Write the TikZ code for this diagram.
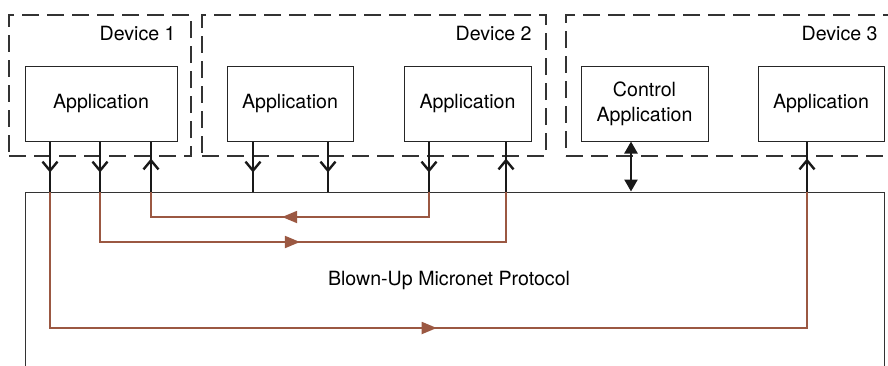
\documentclass[tikz,border=0pt]{standalone}
\usepackage{fontspec}
\setmainfont{TeX Gyre Heros}
\usetikzlibrary{arrows.meta, decorations.markings}
\definecolor{linkbrown}{RGB}{155,88,66}

\begin{document}
\begin{tikzpicture}[x=0.5pt, y=-0.5pt, font=\fontsize{9.8}{12.5}\selectfont,
  appbox/.style={draw=black!85, line width=0.5pt, inner sep=0pt, minimum height=37.5pt, align=center},
  devbox/.style={draw=black!80, line width=0.6pt, dash pattern=on 8.5pt off 4pt, inner sep=0pt, minimum height=70.5pt},
  devlabel/.style={anchor=east, inner sep=0pt},
  sendline/.style={draw=black!90, line width=1.2pt, postaction={decorate, decoration={markings, mark=at position 15.5pt with {\arrow{Straight Barb[length=4.5pt, width=7.5pt]}}}}},
  recvline/.style={draw=black!90, line width=1.2pt, postaction={decorate, decoration={markings, mark=at position 16.5pt with {\arrow{Straight Barb[length=4.5pt, width=7.5pt]}}}}},
  ctrlline/.style={draw=black!90, line width=1.2pt, {Triangle[length=6pt, width=6.5pt]}-{Triangle[length=6pt, width=6.5pt]}},
  msgflow/.style={draw=linkbrown, line width=0.9pt, postaction={decorate, decoration={markings, mark=at position #1 with {\arrow{Triangle[length=7.5pt, width=6pt]}}}}}]
\useasboundingbox (0,0) rectangle (888,365);
\clip (0,0) rectangle (888,365);
\node[devbox, minimum width=91pt] (dev1) at (100,85.5) {};
\node[devbox, minimum width=172pt] (dev2) at (374,85.5) {};
\node[devbox, minimum width=167pt] (dev3) at (733,85.5) {};
\node[devlabel] (dev1lbl) at (176,33) {Device 1};
\node[devlabel] (dev2lbl) at (532,33) {Device 2};
\node[devlabel] (dev3lbl) at (878,33) {Device 3};
\node[appbox, minimum width=76pt] (app1) at (101,103.5) {Application};
\node[appbox, minimum width=63pt] (app2a) at (290,103.5) {Application};
\node[appbox, minimum width=63.5pt] (app2b) at (467.5,103.5) {Application};
\node[appbox, minimum width=63.5pt] (ctrl) at (644.5,103.5) {Control\\Application};
\node[appbox, minimum width=63pt] (app3) at (821,103.5) {Application};
\node[draw=black!80, line width=0.5pt, inner sep=0pt, minimum width=429.5pt, minimum height=104pt] (proto) at (454.5,296) {};
\node (protolbl) at (449,280) {Blown-Up Micronet Protocol};
\coordinate (c1) at (50,0);
\coordinate (c2) at (100,0);
\coordinate (c3) at (151,0);
\coordinate (c4) at (253,0);
\coordinate (c5) at (328,0);
\coordinate (c6) at (429,0);
\coordinate (c7) at (506,0);
\coordinate (c8) at (631,0);
\coordinate (c9) at (807,0);
\coordinate (r1) at (0,217);
\coordinate (r2) at (0,242);
\coordinate (r3) at (0,328);
\draw[msgflow=0.524] (proto.north -| c6) |- (r1 -| c3) -- (proto.north -| c3);
\draw[msgflow=0.494] (proto.north -| c2) |- (r2 -| c7) -- (proto.north -| c7);
\draw[msgflow=0.508] (proto.north -| c1) |- (r3 -| c9) -- (proto.north -| c9);
\draw[sendline] (app1.south -| c1) -- (proto.north -| c1);
\draw[sendline] (app1.south -| c2) -- (proto.north -| c2);
\draw[recvline] (proto.north -| c3) -- (app1.south -| c3);
\draw[sendline] (app2a.south -| c4) -- (proto.north -| c4);
\draw[sendline] (app2a.south -| c5) -- (proto.north -| c5);
\draw[sendline] (app2b.south -| c6) -- (proto.north -| c6);
\draw[recvline] (proto.north -| c7) -- (app2b.south -| c7);
\draw[ctrlline] (ctrl.south -| c8) -- (proto.north -| c8);
\draw[recvline] (proto.north -| c9) -- (app3.south -| c9);
\end{tikzpicture}
\end{document}
